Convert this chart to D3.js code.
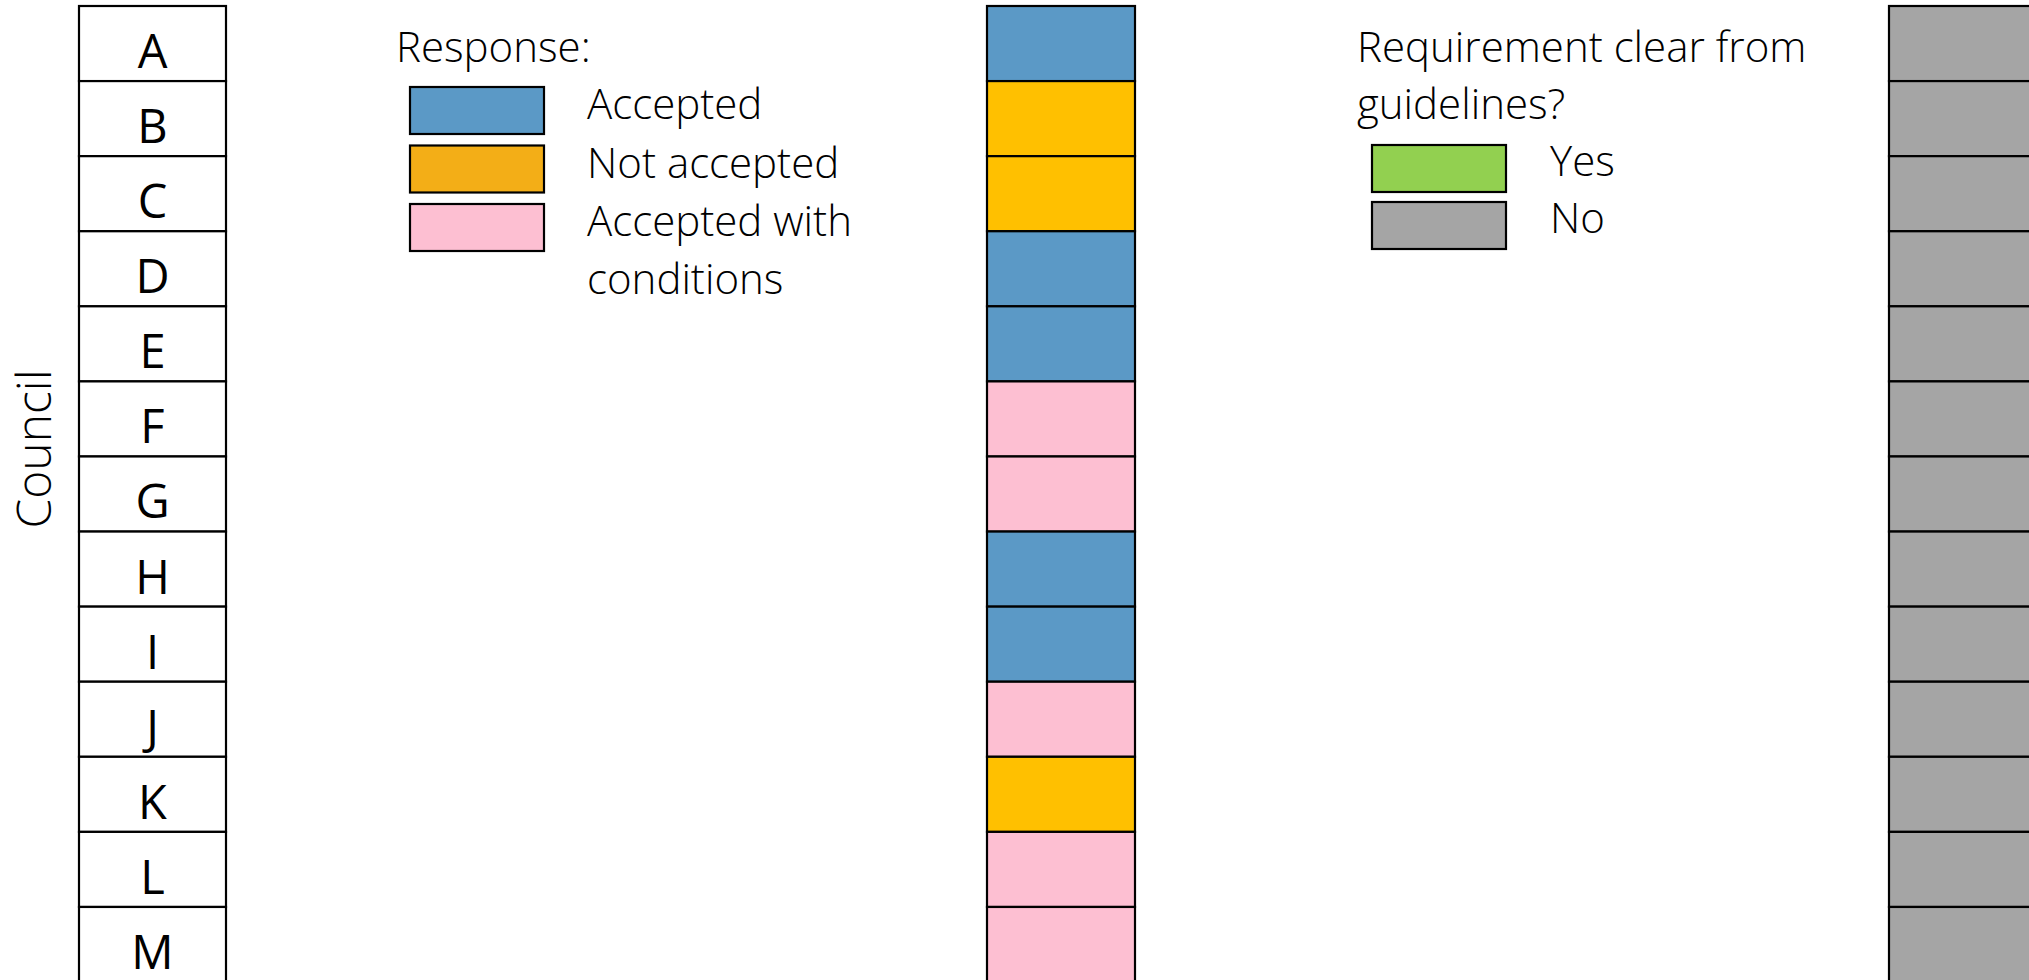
<!DOCTYPE html>
<html>
<head>
<meta charset="utf-8">
<script src="https://cdn.jsdelivr.net/npm/d3@7"></script>
<style>
  html, body { margin: 0; padding: 0; background: #ffffff; overflow: hidden; }
  svg { display: block; }
  text { font-family: "Open Sans", Lato, sans-serif; fill: #000; }
  .light { font-family: "Open Sans", Lato, sans-serif; font-weight: 300; }
  .cell { font-family: "Open Sans", Lato, sans-serif; font-weight: 400; }
</style>
</head>
<body>
<svg id="chart" width="2029" height="980"></svg>
<script>
// ---- data ----
const councils = ["A","B","C","D","E","F","G","H","I","J","K","L","M"];
const responses = ["Accepted","Not accepted","Not accepted","Accepted","Accepted",
  "Accepted with conditions","Accepted with conditions","Accepted","Accepted",
  "Accepted with conditions","Not accepted","Accepted with conditions","Accepted with conditions"];
const clearFromGuidelines = ["No","No","No","No","No","No","No","No","No","No","No","No","No"];
const responseCategories = ["Accepted","Not accepted","Accepted with conditions"];
const responseLegendLabels = [["Accepted"],["Not accepted"],["Accepted with","conditions"]];
const clearCategories = ["Yes","No"];
const clearTitleLines = ["Requirement clear from","guidelines?"];

// ---- styles ----
const responseColor = d3.scaleOrdinal().domain(responseCategories).range(["#5B99C6","#FFC000","#FDBFD2"]);
const responseLegendColor = d3.scaleOrdinal().domain(responseCategories).range(["#5B99C6","#F3AE17","#FDBFD2"]);
const clearColor = d3.scaleOrdinal().domain(clearCategories).range(["#92D050","#A5A5A5"]);

const svg = d3.select("#chart");
const rowH = 75.08;
const y = d3.scaleBand().domain(councils).range([6, 6 + rowH * councils.length]).padding(0);

const columns = [
  {x: 79, w: 147},
  {x: 987, w: 148},
  {x: 1889, w: 148}
];

// Council label column
const g0 = svg.append("g");
g0.selectAll("rect").data(councils).join("rect")
  .attr("x", columns[0].x).attr("y", d => y(d))
  .attr("width", columns[0].w).attr("height", y.bandwidth())
  .attr("fill", "#fff").attr("stroke", "#000").attr("stroke-width", 2.2);
g0.selectAll("text").data(councils).join("text")
  .attr("class", "cell")
  .attr("x", columns[0].x + columns[0].w / 2)
  .attr("y", d => y(d) + 62)
  .attr("text-anchor", "middle")
  .style("font-size", "47px")
  .text(d => d);

// Axis title
svg.append("text")
  .attr("class", "light")
  .attr("transform", "translate(51,449) rotate(-90)")
  .attr("text-anchor", "middle")
  .style("font-size", "48px")
  .text("Council");

// Response column
svg.append("g").selectAll("rect").data(councils).join("rect")
  .attr("x", columns[1].x).attr("y", d => y(d))
  .attr("width", columns[1].w).attr("height", y.bandwidth())
  .attr("fill", (d, i) => responseColor(responses[i]))
  .attr("stroke", "#000").attr("stroke-width", 2.2);

// Clear-from-guidelines column
svg.append("g").selectAll("rect").data(councils).join("rect")
  .attr("x", columns[2].x).attr("y", d => y(d))
  .attr("width", columns[2].w).attr("height", y.bandwidth())
  .attr("fill", (d, i) => clearColor(clearFromGuidelines[i]))
  .attr("stroke", "#000").attr("stroke-width", 2.2);

const legendFont = "42px";

// Legend 1: Response
const lg1 = svg.append("g");
lg1.append("text").attr("class", "light").attr("x", 396).attr("y", 62)
  .style("font-size", legendFont).text("Response:");
const l1 = lg1.selectAll("g.item").data(responseCategories).join("g").attr("class", "item")
  .attr("transform", (d, i) => `translate(0,${i * 58.5})`);
l1.append("rect").attr("x", 410).attr("y", 87).attr("width", 134).attr("height", 47)
  .attr("fill", d => responseLegendColor(d)).attr("stroke", "#000").attr("stroke-width", 2.2);
l1.append("text").attr("class", "light").attr("x", 587).attr("y", 119)
  .style("font-size", legendFont)
  .selectAll("tspan").data((d, i) => responseLegendLabels[i]).join("tspan")
  .attr("x", 587).attr("dy", (d, j) => j === 0 ? 0 : 57.5)
  .text(d => d);

// Legend 2: Requirement clear
const lg2 = svg.append("g");
lg2.append("text").attr("class", "light").attr("x", 1357).attr("y", 62)
  .style("font-size", legendFont)
  .selectAll("tspan").data(clearTitleLines).join("tspan")
  .attr("x", 1357).attr("dy", (d, j) => j === 0 ? 0 : 56.5).text(d => d);
const l2 = lg2.selectAll("g.item").data(clearCategories).join("g").attr("class", "item")
  .attr("transform", (d, i) => `translate(0,${i * 57})`);
l2.append("rect").attr("x", 1372).attr("y", 145).attr("width", 134).attr("height", 47)
  .attr("fill", d => clearColor(d)).attr("stroke", "#000").attr("stroke-width", 2.2);
l2.append("text").attr("class", "light").attr("x", 1550).attr("y", 176)
  .style("font-size", legendFont).text(d => d);
</script>
</body>
</html>
